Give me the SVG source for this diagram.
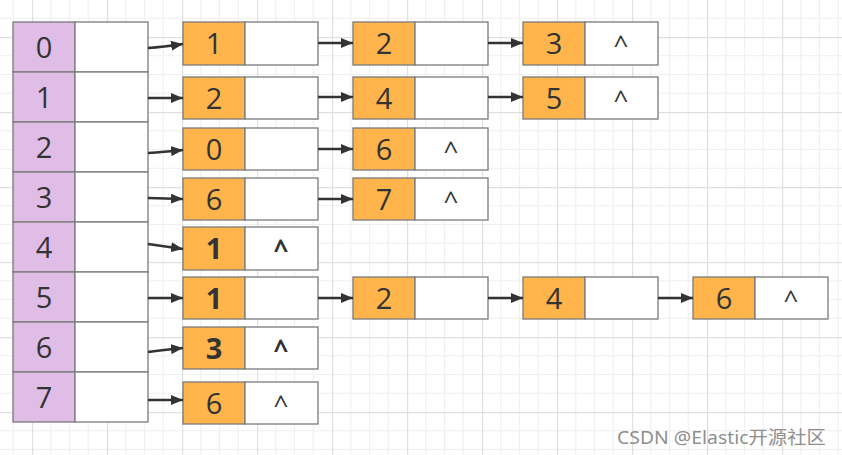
<svg xmlns="http://www.w3.org/2000/svg" width="842" height="455" viewBox="0 0 842 455">
<style>
.idx{fill:#e0bde6;stroke:#7a7a7a;stroke-width:1.3}
.cell{fill:#ffffff;stroke:#7a7a7a;stroke-width:1.3}
.val{fill:#ffb54b;stroke:#7a7a7a;stroke-width:1.3}
.t{font-family:"Open Sans","Noto Sans","DejaVu Sans",sans-serif;font-size:29px;fill:#333333;text-anchor:middle}
.c{font-family:"Open Sans","Noto Sans","DejaVu Sans",sans-serif;font-size:26px;fill:#333333;text-anchor:middle}
.b{font-weight:bold}
.e{fill:none;stroke:#333333;stroke-width:2.4;marker-end:url(#ah)}
.wm{font-family:"Noto Sans","Noto Sans CJK SC",sans-serif;font-size:18.5px;fill:#8f8f8f}
</style>
<defs>
<pattern id="grid" x="32" y="37" width="75" height="75" patternUnits="userSpaceOnUse">
<path d="M18.75,0V75M37.5,0V75M56.25,0V75M0,18.75H75M0,37.5H75M0,56.25H75" stroke="#f0f0f0" stroke-width="1.2" fill="none"/>
<path d="M0.5,0V75M0,0.5H75" stroke="#e0e0e0" stroke-width="1.4" fill="none"/>
</pattern>
<marker id="ah" viewBox="0 0 12 10" refX="12" refY="5" markerWidth="12" markerHeight="10" markerUnits="userSpaceOnUse" orient="auto">
<path d="M0,0L12,5L0,10z" fill="#333333"/>
</marker>
</defs>
<rect width="842" height="455" fill="#ffffff"/>
<rect width="842" height="455" fill="url(#grid)"/>

<g id="array">
<g id="slot-0"><rect class="idx" x="13" y="22" width="62" height="50"/><rect class="cell" x="75" y="22" width="73" height="50"/><text class="t" x="44" y="58">0</text></g>
<g id="slot-1"><rect class="idx" x="13" y="72" width="62" height="50"/><rect class="cell" x="75" y="72" width="73" height="50"/><text class="t" x="44" y="108">1</text></g>
<g id="slot-2"><rect class="idx" x="13" y="122" width="62" height="50"/><rect class="cell" x="75" y="122" width="73" height="50"/><text class="t" x="44" y="158">2</text></g>
<g id="slot-3"><rect class="idx" x="13" y="172" width="62" height="50"/><rect class="cell" x="75" y="172" width="73" height="50"/><text class="t" x="44" y="208">3</text></g>
<g id="slot-4"><rect class="idx" x="13" y="222" width="62" height="50"/><rect class="cell" x="75" y="222" width="73" height="50"/><text class="t" x="44" y="258">4</text></g>
<g id="slot-5"><rect class="idx" x="13" y="272" width="62" height="50"/><rect class="cell" x="75" y="272" width="73" height="50"/><text class="t" x="44" y="308">5</text></g>
<g id="slot-6"><rect class="idx" x="13" y="322" width="62" height="50"/><rect class="cell" x="75" y="322" width="73" height="50"/><text class="t" x="44" y="358">6</text></g>
<g id="slot-7"><rect class="idx" x="13" y="372" width="62" height="50"/><rect class="cell" x="75" y="372" width="73" height="50"/><text class="t" x="44" y="408">7</text></g>
</g>

<g id="r0n1"><rect class="val" x="183" y="22" width="62" height="43"/><rect class="cell" x="245" y="22" width="73" height="43"/><text class="t" x="214" y="54">1</text></g>
<g id="r0n2"><rect class="val" x="353" y="22" width="62" height="43"/><rect class="cell" x="415" y="22" width="73" height="43"/><text class="t" x="384" y="54">2</text></g>
<g id="r0n3"><rect class="val" x="523" y="22" width="62" height="43"/><rect class="cell" x="585" y="22" width="73" height="43"/><text class="t" x="554" y="54">3</text><text class="c" x="621" y="54">^</text></g>

<g id="r1n1"><rect class="val" x="183" y="77" width="62" height="42"/><rect class="cell" x="245" y="77" width="73" height="42"/><text class="t" x="214" y="109">2</text></g>
<g id="r1n2"><rect class="val" x="353" y="77" width="62" height="42"/><rect class="cell" x="415" y="77" width="73" height="42"/><text class="t" x="384" y="109">4</text></g>
<g id="r1n3"><rect class="val" x="523" y="77" width="62" height="42"/><rect class="cell" x="585" y="77" width="73" height="42"/><text class="t" x="554" y="109">5</text><text class="c" x="621" y="109">^</text></g>

<g id="r2n1"><rect class="val" x="183" y="128" width="62" height="42"/><rect class="cell" x="245" y="128" width="73" height="42"/><text class="t" x="214" y="160">0</text></g>
<g id="r2n2"><rect class="val" x="353" y="128" width="62" height="42"/><rect class="cell" x="415" y="128" width="73" height="42"/><text class="t" x="384" y="160">6</text><text class="c" x="451" y="160">^</text></g>

<g id="r3n1"><rect class="val" x="183" y="178" width="62" height="42"/><rect class="cell" x="245" y="178" width="73" height="42"/><text class="t" x="214" y="210">6</text></g>
<g id="r3n2"><rect class="val" x="353" y="178" width="62" height="42"/><rect class="cell" x="415" y="178" width="73" height="42"/><text class="t" x="384" y="210">7</text><text class="c" x="451" y="210">^</text></g>

<g id="r4n1"><rect class="val" x="183" y="227" width="62" height="43"/><rect class="cell" x="245" y="227" width="73" height="43"/><text class="t b" x="214" y="259">1</text><text class="c b" x="281" y="259">^</text></g>

<g id="r5n1"><rect class="val" x="183" y="277" width="62" height="42"/><rect class="cell" x="245" y="277" width="73" height="42"/><text class="t b" x="214" y="309">1</text></g>
<g id="r5n2"><rect class="val" x="353" y="277" width="62" height="42"/><rect class="cell" x="415" y="277" width="73" height="42"/><text class="t" x="384" y="309">2</text></g>
<g id="r5n3"><rect class="val" x="523" y="277" width="62" height="42"/><rect class="cell" x="585" y="277" width="73" height="42"/><text class="t" x="554" y="309">4</text></g>
<g id="r5n4"><rect class="val" x="693" y="277" width="62" height="42"/><rect class="cell" x="755" y="277" width="73" height="42"/><text class="t" x="724" y="309">6</text><text class="c" x="791" y="309">^</text></g>

<g id="r6n1"><rect class="val" x="183" y="327" width="62" height="42"/><rect class="cell" x="245" y="327" width="73" height="42"/><text class="t b" x="214" y="359">3</text><text class="c b" x="281" y="359">^</text></g>

<g id="r7n1"><rect class="val" x="183" y="382" width="62" height="42"/><rect class="cell" x="245" y="382" width="73" height="42"/><text class="t" x="214" y="414">6</text><text class="c" x="281" y="414">^</text></g>

<g id="connectors">
<path class="e" d="M148,48 Q163,47 183,44"/>
<path class="e" d="M148,98 L183,98"/>
<path class="e" d="M148,153 Q163,152 183,150"/>
<path class="e" d="M148,198 L183,199"/>
<path class="e" d="M148,244 L183,249"/>
<path class="e" d="M148,298 L183,298"/>
<path class="e" d="M148,352 Q163,350 183,348"/>
<path class="e" d="M148,400 L183,400"/>
<path class="e" d="M318,43 L353,43"/>
<path class="e" d="M488,43 L523,43"/>
<path class="e" d="M318,97 L353,97"/>
<path class="e" d="M488,97 L523,97"/>
<path class="e" d="M318,149 L353,149"/>
<path class="e" d="M318,199 L353,199"/>
<path class="e" d="M318,298 L353,298"/>
<path class="e" d="M488,298 L523,298"/>
<path class="e" d="M658,298 L693,298"/>
</g>

<text class="wm" x="617" y="444" textLength="209" lengthAdjust="spacingAndGlyphs">CSDN @Elastic开源社区</text>
</svg>
